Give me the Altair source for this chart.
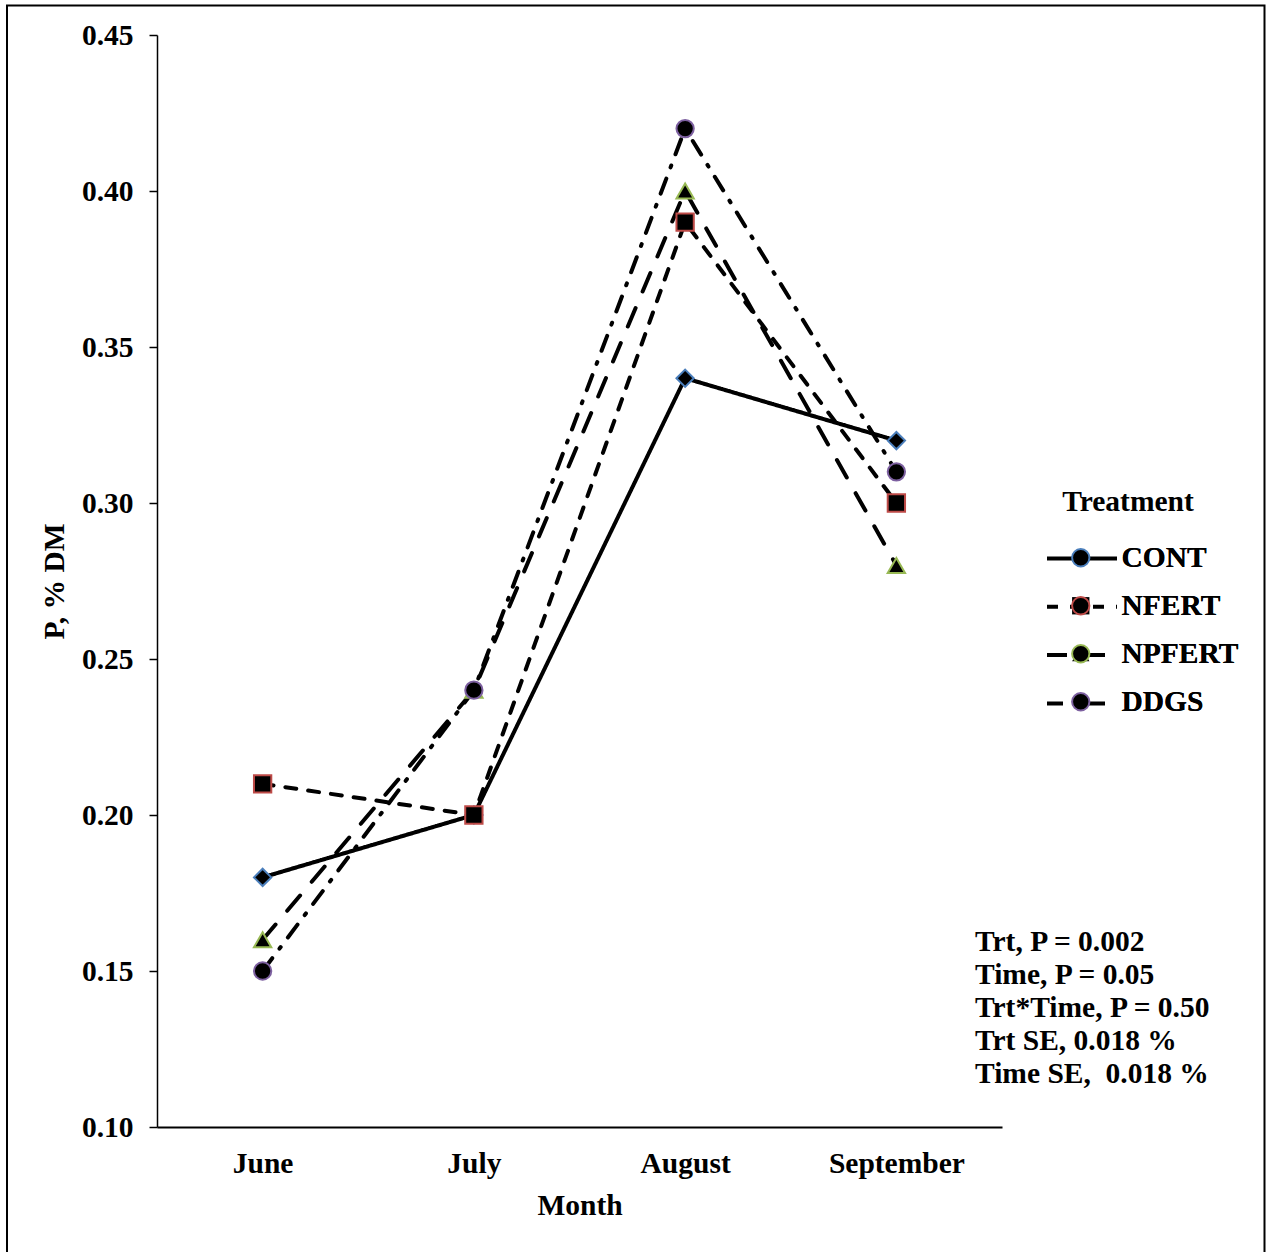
import altair as alt
import pandas as pd

months = ["June", "July", "August", "September"]
treatments = ["CONT", "NFERT", "NPFERT", "DDGS"]
cont = [0.18, 0.20, 0.34, 0.32]
nfert = [0.21, 0.20, 0.39, 0.30]
npfert = [0.16, 0.24, 0.40, 0.28]
ddgs = [0.15, 0.24, 0.42, 0.31]
y_ticks = [0.10, 0.15, 0.20, 0.25, 0.30, 0.35, 0.40, 0.45]
stats_lines = [
    "Trt, P = 0.002",
    "Time, P = 0.05",
    "Trt*Time, P = 0.50",
    "Trt SE, 0.018 %",
    "Time SE,\u00a0 0.018 %",
]

series = {"CONT": cont, "NFERT": nfert, "NPFERT": npfert, "DDGS": ddgs}
rows = []
for t in treatments:
    for m, v in zip(months, series[t]):
        rows.append({"Month": m, "Treatment": t, "Treatment2": t, "P": v})
df = pd.DataFrame(rows)

FONT = "Liberation Serif"
FS = 29.5
marker_colors = ["#4A7EBB", "#BE4B48", "#98B954", "#7D60A0"]
marker_shapes = ["diamond", "square", "triangle-up", "circle"]
dashes = [[1, 0], [11, 12], [20, 18], [16, 12, 2, 12]]

x_enc = alt.X(
    "Month:N",
    sort=months,
    scale=alt.Scale(padding=0.5),
    axis=alt.Axis(
        title="Month",
        labelAngle=0,
        ticks=False,
        tickSize=0,
        labelPadding=22,
        titlePadding=14,
        domainWidth=2,
    ),
)
y_enc = alt.Y(
    "P:Q",
    scale=alt.Scale(domain=[0.10, 0.45], nice=False, zero=False),
    axis=alt.Axis(
        title="P, % DM",
        values=y_ticks,
        format=".2f",
        tickSize=8,
        labelPadding=16,
        titlePadding=12,
        domainWidth=1.5,
        tickWidth=1.5,
    ),
)

# line-style legend (carries the title)
lines = alt.Chart(df).mark_line(
    color="black", strokeWidth=4, strokeCap="round"
).encode(
    x=x_enc,
    y=y_enc,
    detail="Treatment:N",
    strokeDash=alt.StrokeDash(
        "Treatment:N",
        scale=alt.Scale(domain=treatments, range=dashes),
        legend=alt.Legend(
            title="Treatment",
            orient="none",
            legendX=888,
            legendY=453,
            symbolType="stroke",
            symbolSize=4900,
            symbolStrokeWidth=4,
            symbolStrokeColor="black",
            labelExpr="''",
            labelFontSize=1,
            labelOffset=92,
            titleAnchor="middle",
            titlePadding=4,
            rowPadding=3.3,
        ),
    ),
)

# marker legend (carries the labels)
shape_legend = alt.Legend(
    title=None,
    orient="none",
    legendX=909,
    legendY=508,
    symbolSize=300,
    symbolFillColor="black",
    symbolStrokeWidth=2,
    labelOffset=26,
    rowPadding=17,
)

points = alt.Chart(df).mark_point(
    filled=True, fill="black", size=300, strokeWidth=2, opacity=1
).encode(
    x=x_enc,
    y=y_enc,
    shape=alt.Shape(
        "Treatment2:N",
        sort=treatments,
        scale=alt.Scale(range=marker_shapes),
        legend=shape_legend,
    ),
    stroke=alt.Stroke(
        "Treatment2:N",
        sort=treatments,
        scale=alt.Scale(range=marker_colors),
        legend=shape_legend,
    ),
)

stats = alt.Chart(alt.Data(values=[{"t": stats_lines}])).mark_text(
    align="left",
    baseline="alphabetic",
    font=FONT,
    fontWeight="bold",
    fontSize=FS,
    lineHeight=33,
    color="black",
).encode(
    x=alt.value(818),
    y=alt.value(916),
    text="t:N",
)

border = alt.Chart(alt.Data(values=[{"a": 1}])).mark_rect(
    fill="transparent", stroke="black", strokeWidth=2
).encode(
    x=alt.value(-150),
    x2=alt.value(1107.5),
    y=alt.value(-29.5),
    y2=alt.value(1260),
)

chart = (
    alt.layer(border, lines, points, stats)
    .properties(
        width=845,
        height=1092,
        autosize=alt.AutoSizeParams(type="none"),
        padding={"left": 157, "top": 35, "right": 271, "bottom": 125},
        background="white",
    )
    .configure_view(strokeWidth=0)
    .configure_axis(
        grid=False,
        domainColor="black",
        tickColor="black",
        labelColor="black",
        titleColor="black",
        labelFont=FONT,
        titleFont=FONT,
        labelFontSize=FS,
        titleFontSize=FS,
        labelFontWeight="bold",
        titleFontWeight="bold",
    )
    .configure_legend(
        labelFont=FONT,
        titleFont=FONT,
        labelFontSize=FS,
        titleFontSize=FS,
        labelFontWeight="bold",
        titleFontWeight="bold",
        labelColor="black",
        titleColor="black",
    )
)

chart.save("out.html", embed_options={"renderer": "svg", "actions": False})
